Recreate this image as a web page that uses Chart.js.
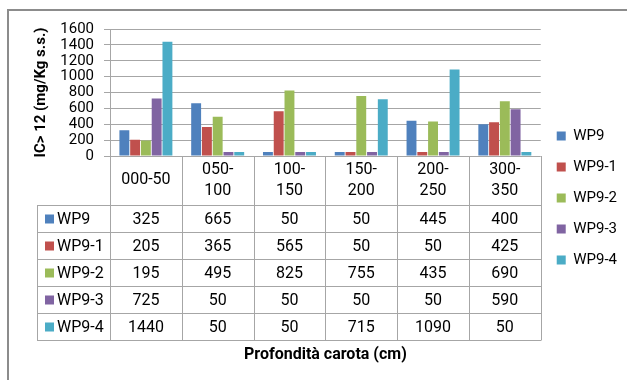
<!DOCTYPE html>
<html lang="it">
<head>
  <meta charset="UTF-8">
  <title>WP9</title>
  <script src="https://cdn.jsdelivr.net/npm/chart.js"></script>
  <style>
    body {
      margin: 0;
      background: #fff;
      font-family: Roboto, sans-serif;
    }
    .frame {
      position: absolute;
      left: 7px;
      top: 9px;
      width: 700px;
      height: 500px;
      border: 2px solid #8c8c8c;
    }
    .wrap {
      position: absolute;
      left: 0;
      top: 0;
      width: 627px;
      height: 380px;
    }
  </style>
</head>
<body>
  <div class="frame"></div>
  <div class="wrap"><canvas id="grafico"></canvas></div>

  <script>
    const categorie = [['000-50'], ['050-', '100'], ['100-', '150'], ['150-', '200'], ['200-', '250'], ['300-', '350']];
    const serie = ['WP9', 'WP9-1', 'WP9-2', 'WP9-3', 'WP9-4'];
    const wp9 = [325, 665, 50, 50, 445, 400];
    const wp9_1 = [205, 365, 565, 50, 50, 425];
    const wp9_2 = [195, 495, 825, 755, 435, 690];
    const wp9_3 = [725, 50, 50, 50, 50, 590];
    const wp9_4 = [1440, 50, 50, 715, 1090, 50];
    const colori = ['#4F81BD', '#C0504D', '#9BBB59', '#8064A2', '#4BACC6'];
    const valori = [wp9, wp9_1, wp9_2, wp9_3, wp9_4];

    const LINEA = '#a6a6a6';

    // tabella dati sotto il grafico
    const tabella = {
      id: 'tabella',
      afterDraw(chart) {
        const ctx = chart.ctx;
        const x = chart.scales.x;
        const area = chart.chartArea;
        const metà = (x.getPixelForValue(1) - x.getPixelForValue(0)) / 2;
        const yHead = area.bottom + 49;
        const hRiga = 27;
        const yFine = yHead + hRiga * serie.length;
        const sx = 37;

        ctx.save();
        ctx.strokeStyle = LINEA;
        ctx.lineWidth = 1;
        ctx.beginPath();
        // verticali
        for (let i = 0; i <= categorie.length; i++) {
          const px = Math.round(x.getPixelForValue(i) - metà) + 0.5;
          ctx.moveTo(px, area.bottom);
          ctx.lineTo(px, yFine);
        }
        ctx.moveTo(sx + 0.5, yHead);
        ctx.lineTo(sx + 0.5, yFine);
        // orizzontali
        for (let r = 0; r <= serie.length; r++) {
          const py = Math.round(yHead + r * hRiga) + 0.5;
          ctx.moveTo(sx, py);
          ctx.lineTo(Math.round(area.right) + 0.5, py);
        }
        ctx.stroke();

        ctx.font = '16px Roboto';
        ctx.textBaseline = 'middle';
        serie.forEach((nome, r) => {
          const cy = yHead + r * hRiga + hRiga / 2 + 1;
          ctx.fillStyle = colori[r];
          ctx.fillRect(45, cy - 5, 9, 9);
          ctx.fillStyle = '#000';
          ctx.textAlign = 'left';
          ctx.fillText(nome, 57, cy);
          ctx.textAlign = 'center';
          valori[r].forEach((v, i) => {
            ctx.fillText(String(v), x.getPixelForValue(i), cy);
          });
        });
        ctx.restore();
      }
    };

    new Chart(document.getElementById('grafico'), {
      type: 'bar',
      data: {
        labels: categorie,
        datasets: serie.map((nome, i) => ({
          label: nome,
          data: valori[i],
          backgroundColor: colori[i],
          categoryPercentage: 0.75,
          barPercentage: 0.92
        }))
      },
      plugins: [tabella],
      options: {
        responsive: true,
        maintainAspectRatio: false,
        animation: false,
        layout: {
          padding: { left: 8, right: 0, top: 29, bottom: 13 }
        },
        plugins: {
          legend: {
            position: 'right',
            labels: {
              boxWidth: 9,
              boxHeight: 9,
              padding: 16,
              color: '#000',
              font: { family: 'Roboto', size: 15 }
            }
          },
          tooltip: { enabled: false }
        },
        scales: {
          x: {
            grid: { display: false, drawTicks: false },
            border: { display: false },
            ticks: {
              color: '#000',
              font: { family: 'Roboto', size: 16, lineHeight: 1.3 },
              padding: 14,
              crossAlign: 'center',
              maxRotation: 0,
              autoSkip: false
            },
            title: {
              display: true,
              text: 'Profondità carota (cm)',
              color: '#000',
              font: { family: 'Roboto', size: 16, weight: 'bold' },
              padding: { top: 0, bottom: 2 }
            },
            afterFit: s => { s.height = 211; }
          },
          y: {
            min: 0,
            max: 1600,
            ticks: {
              stepSize: 200,
              autoSkip: false,
              color: '#000',
              font: { family: 'Roboto', size: 15, lineHeight: 1 },
              padding: 10,
              callback: v => String(v)
            },
            grid: { color: LINEA, tickLength: 6 },
            border: { color: LINEA },
            title: {
              display: true,
              text: 'IC> 12 (mg/Kg s.s.)',
              color: '#000',
              font: { family: 'Roboto', size: 15, weight: 'bold' },
              padding: { top: 24, bottom: 0 }
            },
            afterFit: s => { s.width = 102; }
          }
        }
      }
    });
  </script>
</body>
</html>
